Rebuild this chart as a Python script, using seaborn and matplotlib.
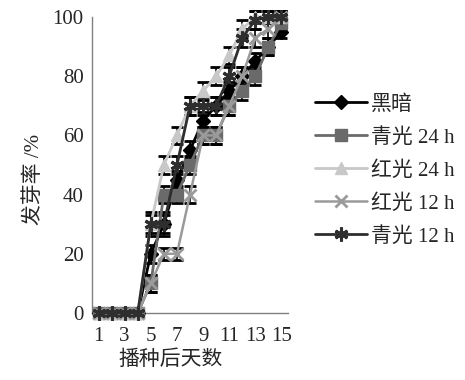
import matplotlib
matplotlib.use("Agg")
import matplotlib.pyplot as plt
import seaborn as sns
from matplotlib.ticker import FixedLocator

sns.set_style("white")
plt.rcParams["font.family"] = ["Liberation Serif", "Noto Sans CJK SC"]

# Germination over days after sowing, five light treatments
days = list(range(1, 16))
series_names = ["黑暗", "青光 24 h", "红光 24 h", "红光 12 h", "青光 12 h"]

dark = [0, 0, 0, 0, 20, 30, 45, 55, 65, 70, 75, 80, 85, 90, 95]
blue_24h = [0, 0, 0, 0, 10, 40, 40, 50, 60, 60, 70, 75, 80, 90, 98]
red_24h = [0, 0, 0, 0, 30, 50, 60, 70, 75, 80, 87, 96, 100, 100, 100]
red_12h = [0, 0, 0, 0, 10, 20, 20, 40, 60, 60, 70, 80, 93, 96, 100]
blue_12h = [0, 0, 0, 0, 30, 30, 50, 70, 70, 70, 80, 93, 99, 100, 100]

err_dark = [0, 0, 0, 0, 3, 3, 3, 3, 3, 3, 3, 3, 3, 3, 2]
err_blue_24h = [0, 0, 0, 0, 3, 3, 3, 3, 3, 3, 3, 3, 3, 3, 2]
err_red_24h = [0, 0, 0, 0, 3, 3, 3, 3, 3, 3, 3, 3, 2, 2, 2]
err_red_12h = [0, 0, 0, 0, 3, 2, 2, 3, 3, 3, 3, 3, 3, 3, 2]
err_blue_12h = [0, 0, 0, 0, 4, 4, 3, 3, 3, 3, 3, 3, 3, 2, 2]

values = [dark, blue_24h, red_24h, red_12h, blue_12h]
errors = [err_dark, err_blue_24h, err_red_24h, err_red_12h, err_blue_12h]

y_ticks = [0, 20, 40, 60, 80, 100]
x_tick_days = [1, 3, 5, 7, 9, 11, 13, 15]

styles = [
    dict(color="#000000", marker="D", markersize=7, mfc="#000000", mec="#000000", mew=1.0, lw=2.0),
    dict(color="#6a6a6a", marker="s", markersize=8, mfc="#6a6a6a", mec="#6a6a6a", mew=1.0, lw=2.0),
    dict(color="#c8c8c8", marker="^", markersize=8.5, mfc="#c8c8c8", mec="#c8c8c8", mew=1.0, lw=2.0),
    dict(color="#9a9a9a", marker="x", markersize=8, mfc="#9a9a9a", mec="#9a9a9a", mew=2.0, lw=1.8),
    dict(color="#2e2e2e", marker=(6, 2, 0), markersize=10, mfc="#2e2e2e", mec="#2e2e2e", mew=2.2, lw=2.0),
]

fig = plt.figure(figsize=(4.65, 3.8), dpi=100)
ax = fig.add_axes([92 / 465, 1 - 313 / 380, 196 / 465, 296 / 380])

for name, vals, errs, st in zip(series_names, values, errors, styles):
    ax.errorbar(days, vals, yerr=errs, fmt="none", ecolor="#000000",
                elinewidth=1.2, capsize=4.5, capthick=2.0, clip_on=False, zorder=2)
    sns.lineplot(x=days, y=vals, ax=ax, label=name, color=st["color"],
                 marker=st["marker"], markersize=st["markersize"],
                 markerfacecolor=st["mfc"], markeredgecolor=st["mec"],
                 markeredgewidth=st["mew"], linewidth=st["lw"],
                 clip_on=False, zorder=3)

ax.set_xlim(0.5, 15.5)
ax.set_ylim(0, 100)
ax.set_yticks(y_ticks)
ax.set_yticklabels([str(v) for v in y_ticks])
ax.set_xticks(x_tick_days)
ax.set_xticklabels([str(d) for d in x_tick_days])
ax.xaxis.set_minor_locator(FixedLocator([d + 0.5 for d in range(0, 16)]))

ax.tick_params(axis="x", which="major", length=0, pad=10, labelsize=15)
ax.tick_params(axis="x", which="minor", direction="in", length=5, width=1, color="#808080")
ax.tick_params(axis="y", which="major", direction="in", length=5, width=1, color="#808080",
               pad=6, labelsize=15)

for side in ["top", "right"]:
    ax.spines[side].set_visible(False)
for side in ["left", "bottom"]:
    ax.spines[side].set_color("#808080")
    ax.spines[side].set_linewidth(1.0)

ax.set_xlabel("播种后天数", fontsize=15)
ax.xaxis.set_label_coords(0.40, -0.125)
ax.set_ylabel("发芽率 /%", fontsize=15)
ax.yaxis.set_label_coords(-0.245, 0.45)

ax.get_legend().remove()
handles, labels = ax.get_legend_handles_labels()
fig.legend(handles, labels, loc="upper left", bbox_to_anchor=(315 / 465, 1 - 95 / 380),
           frameon=False, fontsize=15, handlelength=2.5, handletextpad=0.2,
           labelspacing=0.64, borderpad=0, borderaxespad=0)

fig.savefig("out.png", dpi=100)
